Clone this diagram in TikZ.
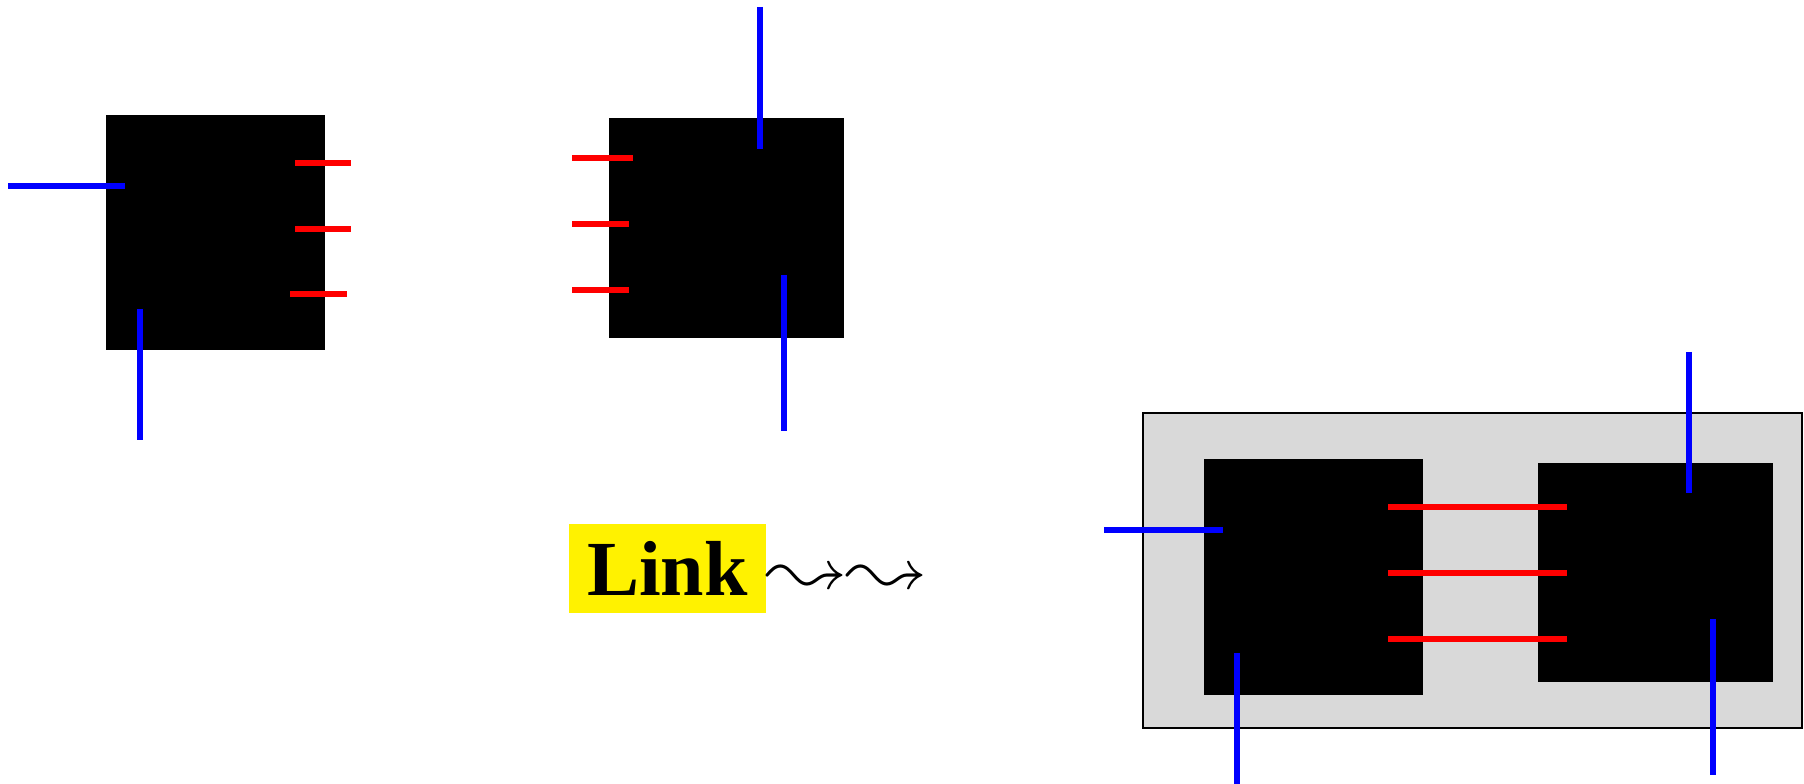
\documentclass[tikz,border=0pt]{standalone}
\usepackage{latexsym}
\usepackage{fontspec}
\newfontfamily\linkfont{Liberation Serif}
\usetikzlibrary{fit}
\definecolor{linkyellow}{RGB}{255,242,0}
\definecolor{grpgray}{RGB}{217,217,217}
\tikzset{
  blk/.style={fill=black, inner sep=0pt, outer sep=0pt},
  grp/.style={fill=grpgray, draw=black, line width=0.4pt, inner sep=0pt, outer sep=0pt},
  bw/.style={draw=blue, line width=2pt},
  rw/.style={draw=red, line width=2pt},
  linkbox/.style={fill=linkyellow, inner sep=0pt, minimum width=65.67pt, minimum height=29.67pt, font=\linkfont\bfseries\fontsize{26}{30}\selectfont}
}
\begin{document}
\begin{tikzpicture}[x=0.33333pt, y=-0.33333pt]
\useasboundingbox (0,0) rectangle (1804,784);
% top-left box
\node[blk, fit={(106,115) (325,350)}] (b1) {};
\draw[bw] (8,186) -- (125,186);
\draw[bw] (140,309) -- (140,440);
\draw[rw] (295,163) -- (351,163);
\draw[rw] (295,229) -- (351,229);
\draw[rw] (290,294) -- (347,294);
% top-middle box
\node[blk, fit={(609,118) (844,338)}] (b2) {};
\draw[bw] (760,7) -- (760,149);
\draw[bw] (784,275) -- (784,431);
\draw[rw] (572,158) -- (633,158);
\draw[rw] (572,224) -- (629,224);
\draw[rw] (572,290) -- (629,290);
% link
\node[linkbox] (link) at (667.5,568.5) {Link};
\node[anchor=base west, inner sep=0pt, font=\Huge] (arr) at (link.base east) {\scalebox{1.07}{$\leadsto\leadsto$}};
% group
\node[grp, fit={(1143,413) (1802,728)}] (g) {};
\node[blk, fit={(1204,459) (1423,695)}] (b3) {};
\node[blk, fit={(1538,463) (1773,682)}] (b4) {};
\draw[bw] (1104,530) -- (1223,530);
\draw[bw] (1237,653) -- (1237,784);
\draw[bw] (1689,352) -- (1689,493);
\draw[bw] (1713,619) -- (1713,775);
\draw[rw] (1388,507) -- (1567,507);
\draw[rw] (1388,573) -- (1567,573);
\draw[rw] (1388,639) -- (1567,639);
\end{tikzpicture}
\end{document}
